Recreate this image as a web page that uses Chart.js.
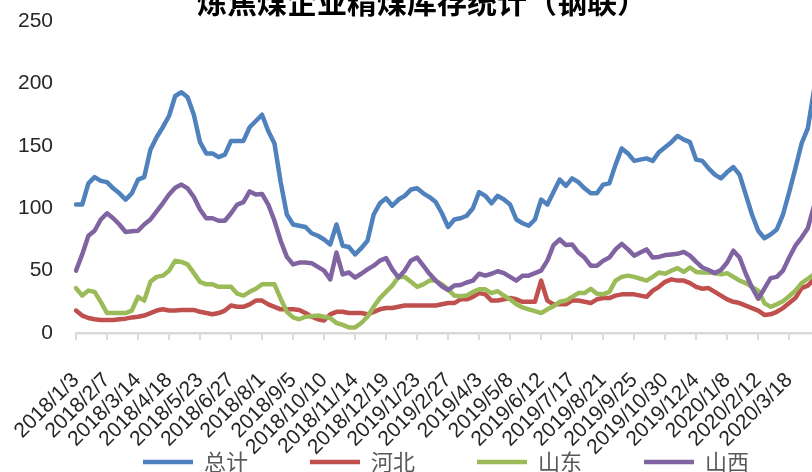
<!DOCTYPE html>
<html>
<head>
<meta charset="utf-8">
<script src="https://cdn.jsdelivr.net/npm/chart.js@4.4.0/dist/chart.umd.min.js"></script>
<style>
  html, body { margin: 0; padding: 0; background: #fff; }
  /* the reference is a crop of a slightly larger chart, so the canvas overflows */
  #frame { position: relative; width: 812px; height: 472px; overflow: hidden; }
  #box { position: absolute; left: 0; top: -20px; width: 818px; height: 572px; }
</style>
</head>
<body>
<div id="frame"><div id="box"><canvas id="stockChart"></canvas></div></div>
<script>
const chartTitle = "炼焦煤企业精煤库存统计（钢联）";
const seriesNames = ["总计", "河北", "山东", "山西"];
const seriesColors = ["#4F81BD", "#C0504D", "#9BBB59", "#8064A2"];

// weekly values, first week 2018/1/3
const total = [103,103,120,125,122,121,116,112,107,112,123,125,147,157,165,174,190,193,189,175,
  153,144,144,141,143,154,154,154,165,170,175,162,152,121,95,87,86,85,80,78,
  75,71,87,70,69,63,68,74,95,104,108,102,107,110,115,116,112,109,105,96,
  85,91,92,94,100,113,110,104,110,107,103,91,88,86,91,107,103,113,123,118,
  124,121,116,112,112,119,120,135,148,144,138,139,140,138,145,149,153,158,155,153,
  139,138,132,127,124,129,133,127,111,95,82,76,79,83,95,113,132,152,164,195];
const hebei = [18,14,12,11,10.5,10.5,10.5,11,11.5,12.5,13,14,16,18,19,18,18,18.5,18.5,18.5,
  17,16,15,16,18,22,21,21,23,26,26,23,21,19,19,19,18.5,16,13,11,
  10,15,17,17,16,16,16,15,17,19,20,20,21,22,22,22,22,22,22,23,
  24,24,27,27,29,32,31,26,26,27,28,27,25,25,25,42,26,23,23,23,
  26,26,25,24,27,28,28,30,31,31,31,30,29,34,37,41,43,42,42,40,
  37,35.5,36,33,30,27,25,24,22,20,18,14.5,15,17,20,24,28,36,38,43];
const shandong = [36,30,34,33,25,16,16,16,16,18,29,26,41,45,46,50,58,57,55,48,
  41,39,39,37,37,37,31.5,30,33,35.5,39,39,39,27.5,17,12.5,11,13,13.5,14,
  13,12,8,6.5,4.5,4.5,8,13,21,28,33,38,45,45,41,37,39,42,42,39,
  35,30,29.5,30,33,35,35,32,33.5,30,27,23,20.5,19,17.5,16,19,21.5,25,26,
  29,32,32,35.5,31.5,31,33,42,45,46,45,43.5,42,45,48.5,47.5,50,52,49,52.5,
  49,48.5,48.5,48,47,48,45,42,40,37,34,24,21,23,25.5,29.5,34,40,43.5,47];
const shanxi = [50,63,78,82,91,96,92,87,81,81.5,82,87,91,97.5,104,111,116.5,119,116,109,
  99,92,92,90,90,96,103,105,113.5,111,111.5,103,90,74,61,55,56.5,56.5,56,53,
  50,43,64.5,47,48.5,44.5,47.5,51,54,58,60,51,44.5,50,58,60.5,54,47.5,42,37.5,
  34.5,38,38.5,40.5,42,47.5,46,47.5,49.5,48,45,42,46,46,48,50,58,70.5,75,70.5,
  71,64.5,60.5,54,54,58,60.5,67,71.5,67,62,64.5,67,60.5,61,62.5,63,63.5,65,62,
  57,52.5,50.5,48,50.5,56.5,66,60.5,47.5,36.5,27.5,35.5,44,45,50,60.5,70,76.5,84,102];

const yTicks = [0, 50, 100, 150, 200, 250];

// category labels: one per week
const weeks = [];
for (let i = 0; i < total.length; i++) {
  const d = new Date(2018, 0, 3 + i * 7);
  weeks.push(d.getFullYear() + "/" + (d.getMonth() + 1) + "/" + d.getDate());
}

const tickFont = { family: "Liberation Sans", size: 21 };

function makeSeries(idx, data) {
  return {
    label: seriesNames[idx],
    data: data,
    borderColor: seriesColors[idx],
    backgroundColor: seriesColors[idx],
    borderWidth: 4.5,
    borderCapStyle: "round",
    borderJoinStyle: "round",
    pointRadius: 0,
    tension: 0,
    order: 3 - idx   // later series drawn on top, like the original
  };
}

// move title / legend a bit, the original chart was wider than this crop
const nudgeBoxes = {
  id: "nudgeBoxes",
  afterLayout(chart) {
    const lg = chart.legend;
    lg.left += 39;
    lg.right += 39;
    lg.top -= 69;
    lg.bottom -= 69;
    chart.titleBlock.left += 15;
    chart.titleBlock.right += 15;
  }
};

new Chart(document.getElementById("stockChart"), {
  type: "line",
  data: {
    labels: weeks,
    datasets: [
      makeSeries(0, total),
      makeSeries(1, hebei),
      makeSeries(2, shandong),
      makeSeries(3, shanxi)
    ]
  },
  plugins: [nudgeBoxes],
  options: {
    responsive: true,
    maintainAspectRatio: false,
    animation: false,
    layout: { padding: { left: 0, right: 4, top: 0, bottom: 0 } },
    plugins: {
      title: {
        display: true,
        text: chartTitle,
        color: "#000",
        font: { family: "Noto Sans CJK SC", size: 30, weight: "bold" },
        padding: { top: 3.5, bottom: 1.7 }
      },
      legend: {
        position: "bottom",
        labels: {
          usePointStyle: true,
          pointStyle: "line",
          pointStyleWidth: 50,
          padding: 62,
          color: "#595959",
          font: { family: "Noto Sans CJK SC", size: 22 },
          sort: (a, b) => a.datasetIndex - b.datasetIndex
        }
      },
      tooltip: { enabled: false }
    },
    scales: {
      x: {
        ticks: {
          autoSkip: false,
          minRotation: 45,
          maxRotation: 45,
          padding: 28,
          color: "#262626",
          font: tickFont
        },
        grid: { drawOnChartArea: false, drawTicks: true, tickLength: 7, color: "#d9d9d9", lineWidth: 2 },
        border: { color: "#d9d9d9", width: 2.5 },
        afterBuildTicks: (s) => { s.ticks = s.ticks.filter((t) => t.value % 5 === 0); },
        afterFit: (s) => { s.height = 125; s.paddingLeft = 0; s.paddingRight = 0; }
      },
      y: {
        min: yTicks[0],
        max: yTicks[yTicks.length - 1],
        ticks: { stepSize: 50, padding: 23, color: "#262626", font: tickFont },
        grid: { display: false, drawTicks: false },
        border: { display: false },
        afterFit: (s) => { s.width = 76; }
      }
    }
  }
});
</script>
</body>
</html>
